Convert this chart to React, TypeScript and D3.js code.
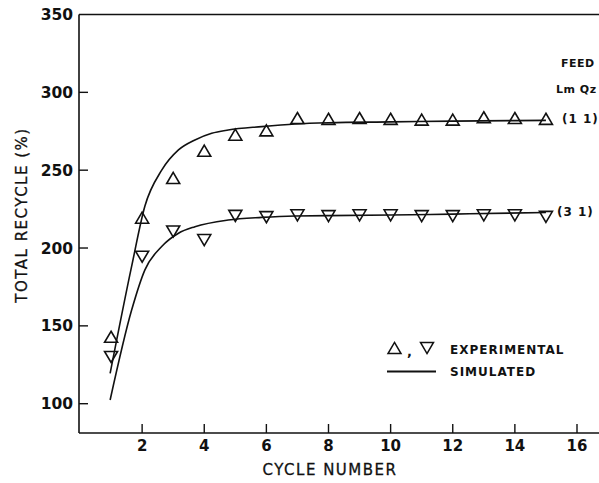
import React from "react";
import * as d3 from "d3";

const cycles = [1, 2, 3, 4, 5, 6, 7, 8, 9, 10, 11, 12, 13, 14, 15];
const expRatio11 = [143, 219.5, 245, 262.5, 272.8, 275.6, 283.5, 283, 283.5, 283, 282.5, 282.5, 284, 283.5, 283];
const expRatio31 = [130, 194.4, 210.6, 205.1, 220.6, 219.8, 221, 220.5, 221, 221, 220.5, 220.5, 221, 221, 220];

const simX11 = [0.97, 1.66, 2.09, 2.63, 3.17, 3.7, 4.24, 4.77, 5.85, 6.92, 8, 10, 12, 15];
const simY11 = [119.5, 188, 227, 250, 263, 269.4, 273.7, 275.8, 278, 279.7, 280.5, 281, 281.5, 282];
const simX31 = [0.97, 1.66, 2.09, 2.63, 3.17, 3.7, 4.77, 5.85, 6.92, 8, 10, 12, 15];
const simY31 = [102.4, 160, 186, 201, 209.5, 213.7, 218, 219.7, 220.6, 220.8, 221.2, 221.8, 222.8];

const xTicks = [2, 4, 6, 8, 10, 12, 14, 16];
const yTicks = [100, 150, 200, 250, 300, 350];

const W = 599;
const H = 483;
const FONT = "'DejaVu Sans', sans-serif";

export default function App() {
  const x = d3.scaleLinear().domain([0, 16]).range([80, 577]);
  const y = d3.scaleLinear().domain([100, 350]).range([403.7, 14.5]);
  const axisLeft = 79;
  const axisBottom = 433;
  const axisTop = 14.5;

  const line = d3
    .line<[number, number]>()
    .x((d) => x(d[0]))
    .y((d) => y(d[1]))
    .curve(d3.curveMonotoneX);

  const sim11 = simX11.map((v, i) => [v, simY11[i]] as [number, number]);
  const sim31 = simX31.map((v, i) => [v, simY31[i]] as [number, number]);

  const up = (cx: number, cy: number, s = 6.5) =>
    `M${cx},${cy - s * 0.85}L${cx + s},${cy + s * 0.85}L${cx - s},${cy + s * 0.85}Z`;
  const down = (cx: number, cy: number, s = 6.5) =>
    `M${cx},${cy + s * 0.85}L${cx + s},${cy - s * 0.85}L${cx - s},${cy - s * 0.85}Z`;

  const ink = "#111";

  return (
    <svg
      width={W}
      height={H}
      style={{ position: "absolute", left: 0, top: 0, background: "#fff" }}
      fontFamily={FONT}
    >
      <rect x={0} y={0} width={W} height={H} fill="#fff" />
      {/* frame */}
      <line x1={axisLeft} y1={axisTop} x2={axisLeft} y2={axisBottom} stroke={ink} strokeWidth={1.6} />
      <line x1={axisLeft} y1={axisBottom} x2={W} y2={axisBottom} stroke={ink} strokeWidth={1.6} />
      <line x1={axisLeft} y1={axisTop} x2={W} y2={axisTop} stroke={ink} strokeWidth={1.6} />

      {/* y ticks */}
      {yTicks.map((t) => (
        <g key={"y" + t}>
          {t !== 350 && (
            <line x1={axisLeft} x2={axisLeft + 9} y1={y(t)} y2={y(t)} stroke={ink} strokeWidth={1.4} />
          )}
          <text
            x={axisLeft - 6}
            y={y(t) + 5.5}
            textAnchor="end"
            fontSize={15.5}
            fontWeight="bold"
            fill={ink}
          >
            {t}
          </text>
        </g>
      ))}

      {/* x ticks */}
      {xTicks.map((t) => (
        <g key={"x" + t}>
          <line x1={x(t)} x2={x(t)} y1={axisBottom} y2={axisBottom - 9} stroke={ink} strokeWidth={1.4} />
          <text x={x(t)} y={451} textAnchor="middle" fontSize={15} fontWeight="bold" fill={ink}>
            {t}
          </text>
        </g>
      ))}

      {/* axis titles */}
      <text x={330} y={475} textAnchor="middle" fontSize={15} letterSpacing={1.5} fill={ink} stroke={ink} strokeWidth={0.3}>
        CYCLE NUMBER
      </text>
      <text
        transform="translate(27,215) rotate(-90)"
        textAnchor="middle"
        fontSize={15}
        letterSpacing={1.5}
        fill={ink}
        stroke={ink}
        strokeWidth={0.3}
      >
        TOTAL RECYCLE (%)
      </text>

      {/* simulated curves */}
      <path d={line(sim11) || ""} fill="none" stroke={ink} strokeWidth={1.6} />
      <path d={line(sim31) || ""} fill="none" stroke={ink} strokeWidth={1.6} />

      {/* experimental points */}
      {cycles.map((c, i) => (
        <path key={"u" + c} d={up(x(c), y(expRatio11[i]))} fill="none" stroke={ink} strokeWidth={1.6} />
      ))}
      {cycles.map((c, i) => (
        <path key={"d" + c} d={down(x(c), y(expRatio31[i]))} fill="none" stroke={ink} strokeWidth={1.6} />
      ))}

      {/* series labels */}
      <text x={562} y={123} fontSize={12} fontWeight="bold" fill={ink} letterSpacing={1}>
        (1 1)
      </text>
      <text x={557} y={216} fontSize={12} fontWeight="bold" fill={ink} letterSpacing={1}>
        (3 1)
      </text>
      <text x={561} y={66.5} fontSize={11} fontWeight="bold" fill={ink} letterSpacing={0.5}>
        FEED
      </text>
      <text x={556} y={93} fontSize={11} fontWeight="bold" fill={ink} letterSpacing={0.5}>
        Lm Qz
      </text>

      {/* legend */}
      <path d={up(394.5, 348, 6.5)} fill="none" stroke={ink} strokeWidth={1.5} />
      <text x={407} y={356} fontSize={13} fontWeight="bold" fill={ink}>
        ,
      </text>
      <path d={down(427, 348, 6.5)} fill="none" stroke={ink} strokeWidth={1.5} />
      <text x={450} y={353.5} fontSize={12} fontWeight="bold" fill={ink} letterSpacing={1}>
        EXPERIMENTAL
      </text>
      <line x1={387} x2={436} y1={371.5} y2={371.5} stroke={ink} strokeWidth={1.8} />
      <text x={450} y={376} fontSize={12} fontWeight="bold" fill={ink} letterSpacing={1}>
        SIMULATED
      </text>
    </svg>
  );
}
